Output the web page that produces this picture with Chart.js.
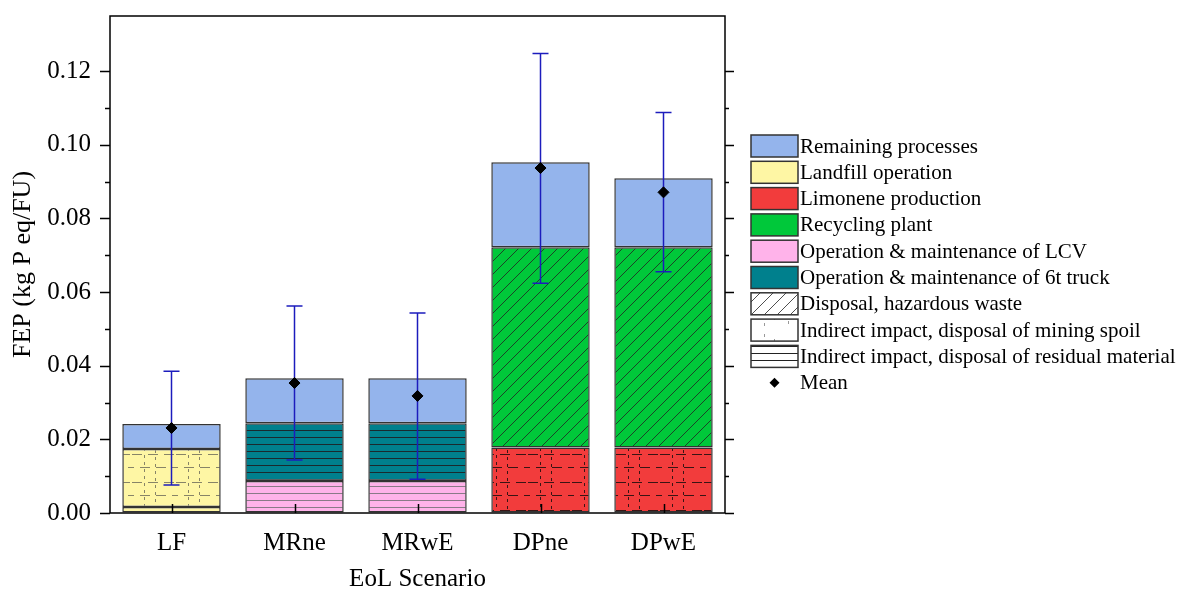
<!DOCTYPE html>
<html>
<head>
<meta charset="utf-8">
<script src="https://cdn.jsdelivr.net/npm/chart.js@4.4.1/dist/chart.umd.min.js"></script>
<style>
    html, body { margin: 0; padding: 0; background: #fff; }
    #wrap { width: 1178px; height: 594px; }
</style>
</head>
<body>
<div id="wrap"><canvas id="fep"></canvas></div>
<script>
const scenarios = ['LF', 'MRne', 'MRwE', 'DPne', 'DPwE'];

// segment heights, bottom to top (kg P eq/FU)
const landfillBase = [0.0016, null, null, null, null];
const landfillSpoil = [0.0158, null, null, null, null];
const lcvResidual = [null, 0.0087, 0.0087, null, null];
const truckResidual = [null, 0.0157, 0.0157, null, null];
const limoneneSpoil = [null, null, null, 0.0178, 0.0178];
const recyclingHazard = [null, null, null, 0.0544, 0.0544];
const remaining = [0.0068, 0.0122, 0.0122, 0.0231, 0.0187];

const means = [0.0231, 0.0353, 0.0318, 0.0937, 0.0871];
const errLow = [0.0076, 0.0144, 0.0092, 0.0624, 0.0655];
const errHigh = [0.0385, 0.0562, 0.0543, 0.1248, 0.1088];

const legendLabels = [
    'Remaining processes',
    'Landfill operation',
    'Limonene production',
    'Recycling plant',
    'Operation & maintenance of LCV',
    'Operation & maintenance of 6t truck',
    'Disposal, hazardous waste',
    'Indirect impact, disposal of mining spoil',
    'Indirect impact, disposal of residual material',
    'Mean'
];

const BLUE = '#94b4ec';
const YELLOW = '#fef6a4';
const RED = '#f23c3c';
const GREEN = '#00c83a';
const PINK = '#ffb3ea';
const TEAL = '#00808d';
const EDGE = '#333333';
const FONT = '"Liberation Serif", "Times New Roman", serif';

function makePattern(w, h, bg, draw) {
    const c = document.createElement('canvas');
    c.width = w;
    c.height = h;
    const g = c.getContext('2d');
    g.fillStyle = bg;
    g.fillRect(0, 0, w, h);
    draw(g);
    return g.createPattern(c, 'repeat');
}

function hatch(bg) {
    return makePattern(13, 13, bg, g => {
        g.strokeStyle = '#222';
        g.lineWidth = 0.8;
        g.beginPath();
        g.moveTo(-1, 14); g.lineTo(14, -1);
        g.moveTo(-2, 2); g.lineTo(2, -2);
        g.moveTo(11, 15); g.lineTo(15, 11);
        g.stroke();
    });
}

function residual(bg, line) {
    return makePattern(8, 7, bg, g => {
        g.fillStyle = line;
        g.fillRect(0, 3, 8, 1);
    });
}

function spoil(bg, line) {
    return makePattern(44, 28, bg, g => {
        g.strokeStyle = line;
        g.lineWidth = 1;
        g.setLineDash([10, 6]);
        g.beginPath();
        g.moveTo(0, 6.5); g.lineTo(44, 6.5);
        g.moveTo(-8, 19.5); g.lineTo(44, 19.5);
        g.stroke();
        g.setLineDash([3, 4]);
        g.beginPath();
        g.moveTo(12.5, 0); g.lineTo(12.5, 28);
        g.moveTo(23.5, 2); g.lineTo(23.5, 30);
        g.stroke();
    });
}

const legendFills = [
    BLUE, YELLOW, RED, GREEN, PINK, TEAL,
    hatch('#ffffff'),
    makePattern(47, 22, '#ffffff', g => {
        g.fillStyle = '#999';
        g.fillRect(12, 4, 1, 3); g.fillRect(12, 15, 1, 3);
        g.fillRect(22, 9, 1, 3); g.fillRect(36, 13, 1, 3);
    }),
    residual('#ffffff', '#222')
];

function barSet(label, data, fill) {
    return {
        type: 'bar',
        label: label,
        data: data,
        backgroundColor: fill,
        borderColor: EDGE,
        borderWidth: 1.5,
        borderSkipped: false,
        barPercentage: 0.8,
        categoryPercentage: 1.0,
        order: 2
    };
}

const datasets = [
    barSet('Landfill operation', landfillBase, YELLOW),
    barSet('Landfill operation, mining spoil', landfillSpoil, spoil(YELLOW, 'rgba(70,70,70,0.65)')),
    barSet('Operation & maintenance of LCV', lcvResidual, residual(PINK, '#8a7a88')),
    barSet('Operation & maintenance of 6t truck', truckResidual, residual(TEAL, '#1a2a2e')),
    barSet('Limonene production', limoneneSpoil, spoil(RED, '#3a1414')),
    barSet('Recycling plant', recyclingHazard, hatch(GREEN)),
    barSet('Remaining processes', remaining, BLUE),
    {
        type: 'line',
        label: 'Mean',
        data: means,
        showLine: false,
        pointStyle: 'rectRot',
        pointRadius: 5.5,
        pointBackgroundColor: '#000',
        pointBorderColor: '#000',
        order: 0
    }
];
const meanIndex = datasets.length - 1;

function drawErrorBars(chart) {
    const ctx = chart.ctx;
    const xs = chart.scales.x;
    const ys = chart.scales.y;
    ctx.save();
    ctx.strokeStyle = '#1c1cbd';
    ctx.lineWidth = 1.5;
    scenarios.forEach((s, i) => {
        const x = xs.getPixelForValue(i);
        const lo = ys.getPixelForValue(errLow[i]);
        const hi = ys.getPixelForValue(errHigh[i]);
        ctx.beginPath();
        ctx.moveTo(x, lo); ctx.lineTo(x, hi);
        ctx.moveTo(x - 8, lo); ctx.lineTo(x + 8, lo);
        ctx.moveTo(x - 8, hi); ctx.lineTo(x + 8, hi);
        ctx.stroke();
    });
    ctx.restore();
}

function drawFrameAndTicks(chart) {
    const ctx = chart.ctx;
    const a = chart.chartArea;
    const xs = chart.scales.x;
    const ys = chart.scales.y;
    ctx.save();
    ctx.strokeStyle = '#000';
    ctx.lineWidth = 1.5;
    ctx.strokeRect(a.left, a.top, a.right - a.left, a.bottom - a.top);
    ctx.beginPath();
    ys.ticks.forEach(t => {
        if (t.value > 0.1301) return;
        const y = Math.round(ys.getPixelForValue(t.value)) + 0.5;
        const major = t.label !== '';
        ctx.moveTo(a.left, y); ctx.lineTo(a.left - (major ? 10 : 5), y);
        ctx.moveTo(a.right, y); ctx.lineTo(a.right + (major ? 9 : 4), y);
    });
    scenarios.forEach((s, i) => {
        const x = Math.round(xs.getPixelForValue(i)) + 0.5;
        ctx.moveTo(x, a.bottom); ctx.lineTo(x, a.bottom - 9);
    });
    ctx.stroke();
    ctx.restore();
}

function drawLegend(chart) {
    const ctx = chart.ctx;
    const left = 751, top = 135, boxW = 47, boxH = 22, step = 26.3;
    ctx.save();
    ctx.font = '21px ' + FONT;
    ctx.textBaseline = 'middle';
    ctx.fillStyle = '#000';
    legendLabels.forEach((label, i) => {
        const y = top + i * step;
        if (i < legendFills.length) {
            ctx.fillStyle = legendFills[i];
            ctx.fillRect(left, y, boxW, boxH);
            ctx.strokeStyle = EDGE;
            ctx.lineWidth = 1.5;
            ctx.strokeRect(left, y, boxW, boxH);
        } else {
            const cx = left + boxW / 2, cy = y + boxH / 2;
            ctx.fillStyle = '#000';
            ctx.beginPath();
            ctx.moveTo(cx, cy - 5); ctx.lineTo(cx + 5, cy);
            ctx.lineTo(cx, cy + 5); ctx.lineTo(cx - 5, cy);
            ctx.closePath();
            ctx.fill();
        }
        ctx.fillStyle = '#000';
        ctx.fillText(label, left + boxW + 2, y + boxH / 2 + 1);
    });
    ctx.restore();
}

const framePlugin = {
    id: 'frame',
    beforeDatasetDraw(chart, args) {
        if (args.index === meanIndex) drawErrorBars(chart);
    },
    afterDraw(chart) {
        drawFrameAndTicks(chart);
        drawLegend(chart);
    }
};

Chart.defaults.font.family = FONT;
Chart.defaults.color = '#000';

const ctx = document.getElementById('fep').getContext('2d');
const fepChart = new Chart(ctx, {
    data: {
        labels: scenarios,
        datasets: datasets
    },
    options: {
        responsive: true,
        maintainAspectRatio: false,
        animation: false,
        layout: {
            padding: { left: 4, right: 453, top: 16, bottom: 0 }
        },
        plugins: {
            legend: { display: false },
            tooltip: { enabled: false }
        },
        scales: {
            x: {
                stacked: true,
                offset: true,
                grid: { display: true, drawOnChartArea: false, drawTicks: true, tickLength: 15, color: 'rgba(0,0,0,0)' },
                border: { display: false },
                ticks: { font: { size: 25 }, padding: 0 },
                title: {
                    display: true,
                    text: 'EoL Scenario',
                    font: { size: 25 },
                    padding: { top: 6, bottom: 0 }
                },
                afterFit: scale => { scale.height = 81; }
            },
            y: {
                stacked: true,
                min: 0,
                max: 0.135,
                grid: { display: true, drawOnChartArea: false, drawTicks: true, tickLength: 19, color: 'rgba(0,0,0,0)' },
                border: { display: false },
                ticks: {
                    stepSize: 0.01,
                    autoSkip: false,
                    padding: 0,
                    font: { size: 25 },
                    callback: function (value) {
                        const hundredths = Math.round(value * 100);
                        if (Math.abs(value * 100 - hundredths) > 1e-6 || hundredths % 2 !== 0) return '';
                        return value.toFixed(2);
                    }
                },
                title: {
                    display: true,
                    text: 'FEP (kg P eq/FU)',
                    font: { size: 26 },
                    padding: { top: 4, bottom: 4 }
                },
                afterFit: scale => { scale.width = 106; }
            }
        }
    },
    plugins: [framePlugin]
});
</script>
</body>
</html>
